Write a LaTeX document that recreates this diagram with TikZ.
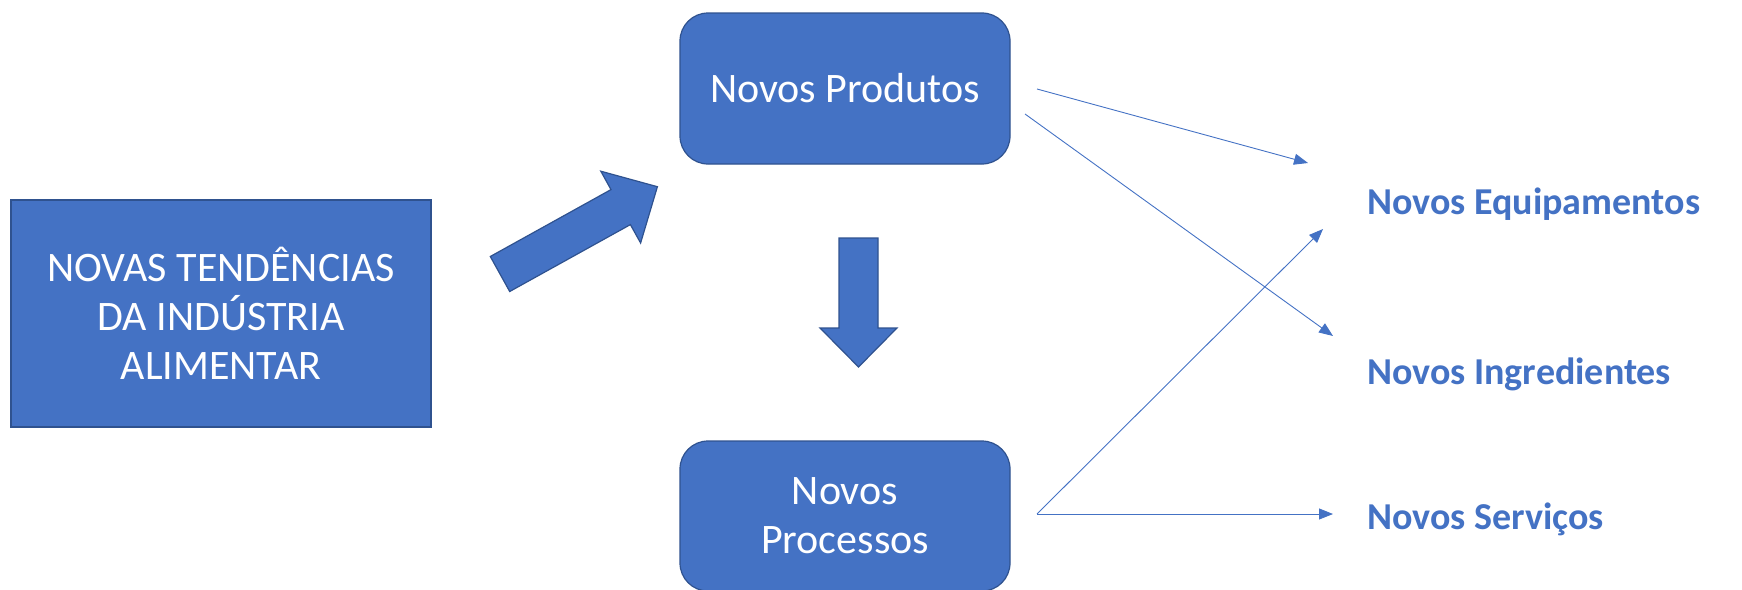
\documentclass[tikz,border=0pt]{standalone}
\usepackage{fontspec}
\setmainfont{Carlito}
\usetikzlibrary{arrows.meta}
\definecolor{blu}{HTML}{4472C4}
\definecolor{blud}{HTML}{2F528F}
\begin{document}
\begin{tikzpicture}[x=1pt,y=-1pt,
 box/.style={draw=blud, line width=1.2pt, fill=blu, text=white, inner sep=0pt, align=center, font=\fontsize{42}{49}\selectfont},
 rbox/.style={box, rounded corners=28pt},
 lbl/.style={text=blu, font=\fontsize{38}{45}\selectfont\bfseries, anchor=base west, inner sep=0pt},
 con/.style={draw=blu, line width=0.9pt, -{Triangle[length=14pt,width=11pt]}},
 barrow/.style={draw=blud, line width=1.2pt, fill=blu, line join=miter}]
\useasboundingbox (0,0) rectangle (1742,589);
% main boxes
\node[box, minimum width=420pt, minimum height=227pt] (trend) at (221,313.5) {NOVAS TENDÊNCIAS\\DA INDÚSTRIA\\ALIMENTAR};
\node[rbox, minimum width=330pt, minimum height=151pt] (prod) at (845,88.5) {Novos Produtos};
\node[rbox, minimum width=330pt, minimum height=150pt] (proc) at (845,516) {Novos\\Processos};
% labels
\node[lbl] (equip) at (1367,214) {Novos Equipamentos};
\node[lbl] (ingr) at (1367,384) {Novos Ingredientes};
\node[lbl] (serv) at (1367,529) {Novos Serviços};
% block arrows
\draw[barrow] (490.3,256.5) -- (611.0,189.6) -- (600.8,171.2) -- (657.4,186.7) -- (640.6,243.0) -- (630.4,224.6) -- (509.7,291.5) -- cycle;
\draw[barrow] (839,238) -- (878,238) -- (878,328) -- (897,328) -- (858.5,367) -- (820,328) -- (839,328) -- cycle;
% connector ends
\coordinate (p1) at (1037,89);
\coordinate (p2) at (1025,114);
\coordinate (q0) at (1037,514);
\coordinate (e1) at (1308,163);
\coordinate (e2) at (1333,336);
\coordinate (e3) at (1323,229);
\coordinate (e4) at (1333,514);
\draw[con] (p1) -- (e1);
\draw[con] (p2) -- (e2);
\draw[con] (q0) -- (e3);
\draw[con] (q0) -- (e4);
\end{tikzpicture}
\end{document}
